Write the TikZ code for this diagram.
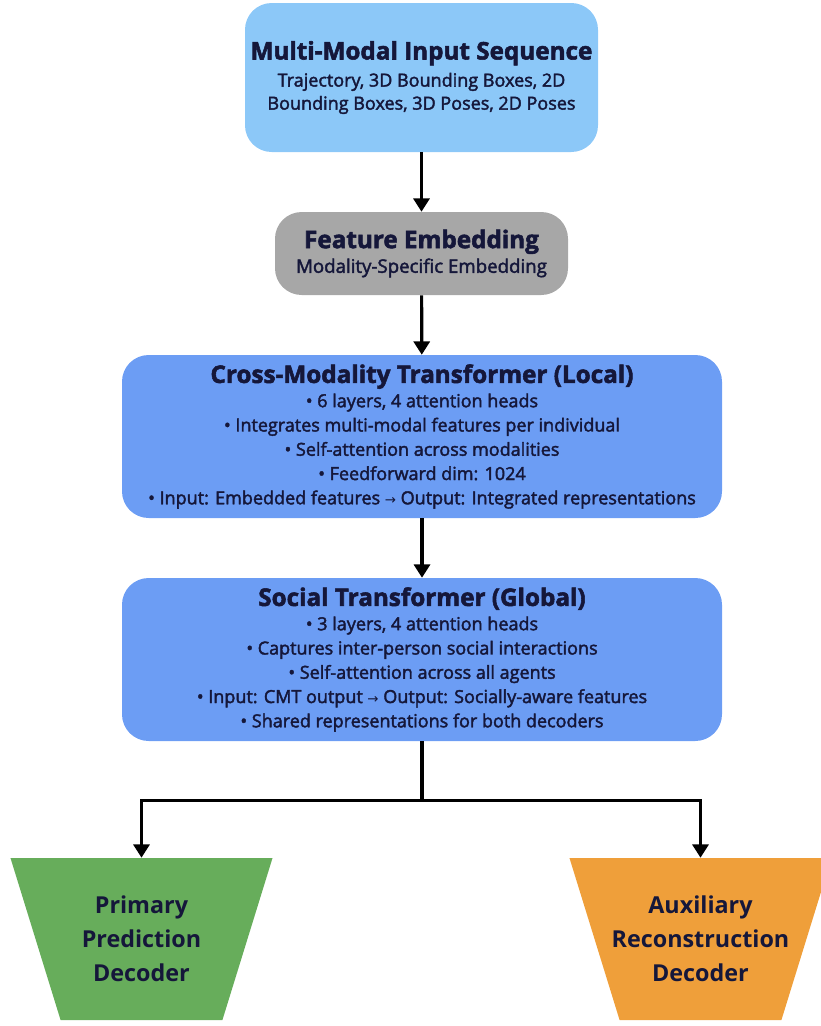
\documentclass[tikz,border=0pt]{standalone}
\usepackage{fontspec}
\setmainfont{Open Sans}
\newfontfamily\bodyfont[FakeBold=2.2]{Open Sans}
\newfontfamily\arrowfont{DejaVu Sans}
\usetikzlibrary{arrows.meta,shapes.geometric}
\definecolor{ink}{HTML}{15173A}
\definecolor{inbox}{HTML}{8CC8F8}
\definecolor{embox}{HTML}{A7A7A7}
\definecolor{trbox}{HTML}{6C9DF4}
\definecolor{pred}{HTML}{67AD5B}
\definecolor{recon}{HTML}{EF9F3A}
\newcommand{\boxhead}[1]{{\fontsize{18.2}{19}\selectfont\bfseries #1}}
\newcommand{\toarr}{{\arrowfont\fontsize{10}{10}\selectfont →}}

\begin{document}
\begin{tikzpicture}[x=0.75pt,y=-0.75pt,
  box/.style={rounded corners=20pt,align=center,text=ink,inner sep=0pt,
    font=\bodyfont\fontsize{13.5}{18.2}\selectfont},
  dec/.style={trapezium,trapezium stretches=true,shape border rotate=180,
    trapezium angle=72.8,minimum width=196.5pt,minimum height=121.5pt,inner sep=2pt},
  declbl/.style={align=center,text=ink,font=\bfseries\fontsize{17.5}{25.5}\selectfont},
  arr/.style={-{Triangle[length=10pt,width=12pt]},line width=2.4pt,draw=black},
  link/.style={line width=2.4pt,draw=black},
]
  \useasboundingbox (0,0) rectangle (821,1026);
  \clip (0,0) rectangle (821,1026);

  \node[box,fill=inbox,minimum width=264.75pt,minimum height=111.75pt,
    font=\bodyfont\fontsize{13.5}{17.3}\selectfont] (inp) at (421.5,77.5)
    {\boxhead{Multi-Modal Input Sequence}\\[3pt]
     Trajectory, 3D Bounding Boxes, 2D\\
     Bounding Boxes, 3D Poses, 2D Poses};
  \node[box,fill=embox,minimum width=219.75pt,minimum height=62.25pt,
    font=\bodyfont\fontsize{14}{18.5}\selectfont] (emb) at (421.5,253.5)
    {\boxhead{Feature Embedding}\\
     Modality-Specific Embedding};
  \node[box,fill=trbox,minimum width=450pt,minimum height=122.25pt] (cmt) at (422,436.5)
    {\boxhead{Cross-Modality Transformer (Local)}\\
     • 6 layers, 4 attention heads\\
     • Integrates multi-modal features per individual\\
     • Self-attention across modalities\\
     • Feedforward dim: 1024\\
     • Input: Embedded features \toarr{} Output: Integrated representations};
  \node[box,fill=trbox,minimum width=450pt,minimum height=122.25pt] (soc) at (422,659.5)
    {\boxhead{Social Transformer (Global)}\\
     • 3 layers, 4 attention heads\\
     • Captures inter-person social interactions\\
     • Self-attention across all agents\\
     • Input: CMT output \toarr{} Output: Socially-aware features\\
     • Shared representations for both decoders};

  \node[dec,fill=pred] (pri) at (141.5,939) {};
  \node[declbl] (pri-txt) at (pri.center) {Primary\\Prediction\\Decoder};
  \node[dec,fill=recon] (aux) at (700.5,939) {};
  \node[declbl] (aux-txt) at (aux.center) {Auxiliary\\Reconstruction\\Decoder};

  \draw[arr] (inp) -- (emb);
  \draw[arr] (emb) -- (cmt);
  \draw[arr] (cmt) -- (soc);
  \draw[link] (soc.south) -- ++(0,59) coordinate (fork);
  \draw[arr] (fork) -| (pri.north);
  \draw[arr] (fork) -| (aux.north);
\end{tikzpicture}
\end{document}
